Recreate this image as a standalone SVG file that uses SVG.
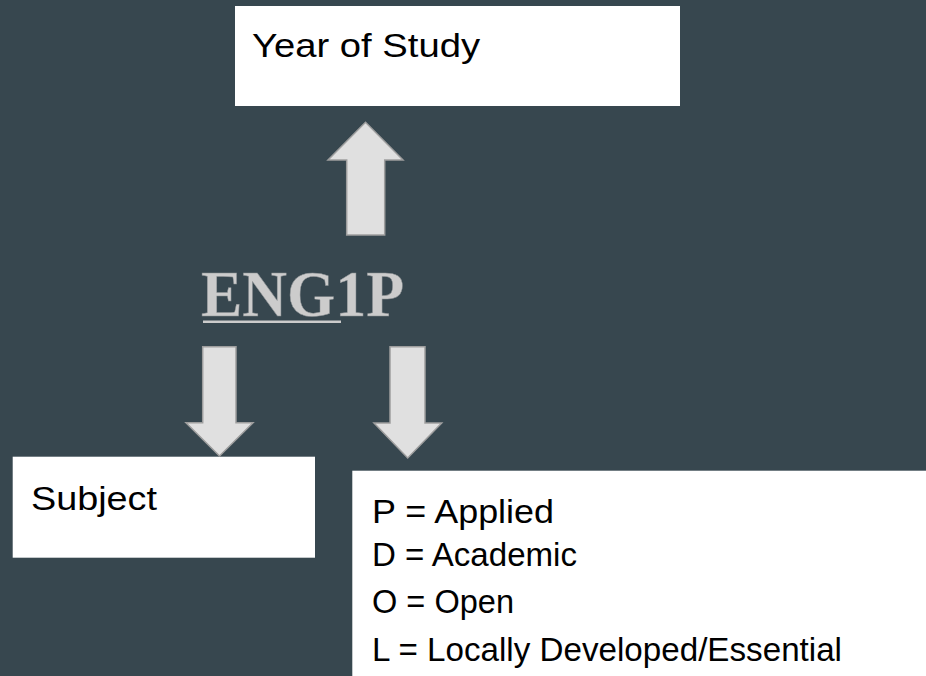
<svg xmlns="http://www.w3.org/2000/svg" width="926" height="676" viewBox="0 0 926 676">
  <style>
    .box { fill: #ffffff; }
    .lbl { font-family: "Liberation Sans", Arial, sans-serif; font-size: 34px; fill: #000000; }
    .key { font-family: "Liberation Sans", Arial, sans-serif; font-size: 32.5px; fill: #000000; }
    .arrow { fill: #e0e0e0; stroke: #9e9e9e; stroke-width: 1.5; stroke-linejoin: miter; }
    .code { font-family: "Liberation Serif", "Times New Roman", serif; font-size: 66px; font-weight: bold; fill: #cccccc; stroke: #8a8f92; stroke-width: 0.5; }
  </style>
  <rect width="926" height="676" fill="#37474f"/>

  <g id="year">
    <rect class="box" x="235" y="6" width="445" height="100"/>
    <text class="lbl" x="252" y="56.7" textLength="228" lengthAdjust="spacingAndGlyphs">Year of Study</text>
  </g>

  <g id="code">
    <text class="code" x="201" y="316" textLength="203" lengthAdjust="spacingAndGlyphs">ENG1P</text>
    <rect x="203" y="320.5" width="138" height="2.5" fill="#cccccc"/>
  </g>

  <g id="subject">
    <rect class="box" x="12.7" y="456.7" width="302.3" height="101"/>
    <text class="lbl" x="31" y="509.5" textLength="126" lengthAdjust="spacingAndGlyphs">Subject</text>
  </g>

  <g id="levels">
    <rect class="box" x="352.3" y="470.7" width="573.7" height="205.3"/>
    <text class="key" x="372" y="522.7" textLength="182" lengthAdjust="spacingAndGlyphs">P = Applied</text>
    <text class="key" x="372" y="566" textLength="205" lengthAdjust="spacingAndGlyphs">D = Academic</text>
    <text class="key" x="372" y="613.3" textLength="142" lengthAdjust="spacingAndGlyphs">O = Open</text>
    <text class="key" x="372" y="661" textLength="470" lengthAdjust="spacingAndGlyphs">L = Locally Developed/Essential</text>
  </g>

  <g id="connectors">
    <polygon class="arrow" points="365.5,122.3 403,160 384.7,160 384.7,235 346.7,235 346.7,160 328,160"/>
    <polygon class="arrow" points="202.7,346.7 236,346.7 236,422.7 253,422.7 219.5,456 186,422.7 202.7,422.7"/>
    <polygon class="arrow" points="390,346.7 425,346.7 425,423 441.7,423 407.7,458 374,423 390,423"/>
  </g>
</svg>
